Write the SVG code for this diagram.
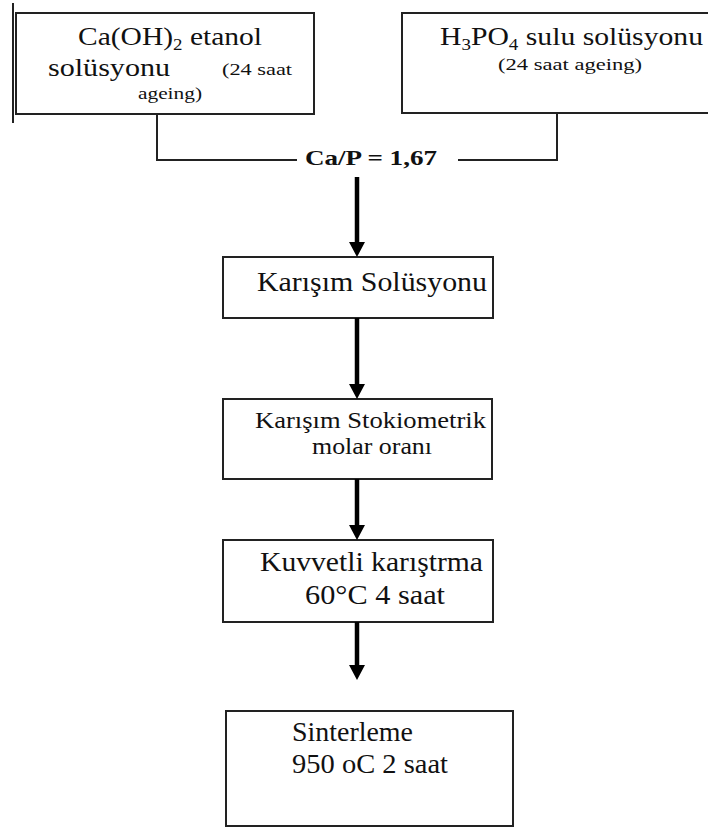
<svg xmlns="http://www.w3.org/2000/svg" width="708" height="828" viewBox="0 0 708 828">
<defs>
<style>
.box{fill:#fff;stroke:#222;stroke-width:2}
.t{font-family:'Liberation Serif','Times New Roman',serif;fill:#111;font-size:25px}
.m{font-family:'Liberation Serif','Times New Roman',serif;fill:#111;font-size:27px}
.n{font-family:'Liberation Serif','Times New Roman',serif;fill:#111;font-size:23px}
.s{font-family:'Liberation Serif','Times New Roman',serif;fill:#111;font-size:16px}
.b{font-family:'Liberation Serif','Times New Roman',serif;fill:#111;font-size:21px;font-weight:bold}
.wire{fill:none;stroke:#222;stroke-width:2}
.arr{fill:none;stroke:#000;stroke-width:4.5}
</style>
<marker id="ah" viewBox="0 -8 15 16" refX="6" refY="0" markerWidth="15" markerHeight="16" markerUnits="userSpaceOnUse" orient="auto">
<path d="M0,-8 L15,0 L0,8 z" fill="#000"/>
</marker>
</defs>
<rect width="708" height="828" fill="#fff"/>

<g id="n1">
<line x1="13" y1="3" x2="13" y2="123" stroke="#222" stroke-width="2"/>
<rect class="box" x="16" y="13" width="298" height="101"/>
<text class="t" x="78" y="45" textLength="184" lengthAdjust="spacingAndGlyphs">Ca(OH)<tspan font-size="16" dy="5">2</tspan><tspan dy="-5"> etanol</tspan></text>
<text class="t" x="48" y="76" textLength="122" lengthAdjust="spacingAndGlyphs">solüsyonu</text>
<text class="s" x="222" y="75" textLength="70" lengthAdjust="spacingAndGlyphs">(24 saat</text>
<text class="s" x="138" y="99" textLength="64" lengthAdjust="spacingAndGlyphs">ageing)</text>
</g>

<g id="n2">
<rect class="box" x="402" y="13" width="312" height="100"/>
<text class="t" x="440" y="45" textLength="263" lengthAdjust="spacingAndGlyphs">H<tspan font-size="16" dy="5">3</tspan><tspan dy="-5">PO</tspan><tspan font-size="16" dy="5">4</tspan><tspan dy="-5"> sulu solüsyonu</tspan></text>
<text class="s" x="498" y="70" textLength="144" lengthAdjust="spacingAndGlyphs">(24 saat ageing)</text>
</g>

<g id="n3">
<rect class="box" x="223" y="257" width="270" height="61"/>
<text class="m" x="257" y="291" textLength="230" lengthAdjust="spacingAndGlyphs">Karışım Solüsyonu</text>
</g>

<g id="n4">
<rect class="box" x="223" y="399" width="269" height="80"/>
<text class="n" x="255" y="428" textLength="231" lengthAdjust="spacingAndGlyphs">Karışım Stokiometrik</text>
<text class="n" x="312" y="454" textLength="120" lengthAdjust="spacingAndGlyphs">molar oranı</text>
</g>

<g id="n5">
<rect class="box" x="223" y="540" width="270" height="82"/>
<text class="m" x="260" y="571" textLength="223" lengthAdjust="spacingAndGlyphs">Kuvvetli karıştrma</text>
<text class="m" x="305" y="604" textLength="140" lengthAdjust="spacingAndGlyphs">60°C 4  saat</text>
</g>

<g id="n6">
<rect class="box" x="226" y="711" width="287" height="115"/>
<text class="m" x="292" y="741" textLength="121" lengthAdjust="spacingAndGlyphs">Sinterleme</text>
<text class="m" x="292" y="773" textLength="156" lengthAdjust="spacingAndGlyphs">950 oC 2 saat</text>
</g>

<g id="connectors">
<polyline class="wire" points="157,114 157,160 297,160"/>
<polyline class="wire" points="557,113 557,160 458,160"/>
<text class="b" x="305" y="165" textLength="132" lengthAdjust="spacingAndGlyphs">Ca/P = 1,67</text>
<line class="arr" x1="357" y1="177" x2="357" y2="248" marker-end="url(#ah)"/>
<line class="arr" x1="357" y1="318" x2="357" y2="390" marker-end="url(#ah)"/>
<line class="arr" x1="357" y1="479" x2="357" y2="531" marker-end="url(#ah)"/>
<line class="arr" x1="357" y1="622" x2="357" y2="671" marker-end="url(#ah)"/>
</g>
</svg>
